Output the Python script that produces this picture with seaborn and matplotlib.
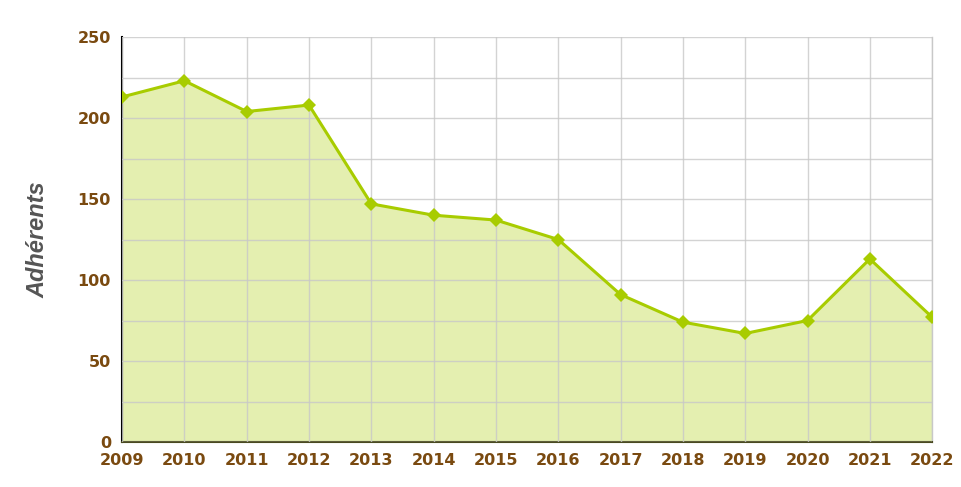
import matplotlib
matplotlib.use('Agg')
import matplotlib.pyplot as plt
import seaborn as sns
import pandas as pd

years = [2009, 2010, 2011, 2012, 2013, 2014, 2015, 2016, 2017, 2018, 2019, 2020, 2021, 2022]
adherents = [213, 223, 204, 208, 147, 140, 137, 125, 91, 74, 67, 75, 113, 77]
y_ticks = [0, 50, 100, 150, 200, 250]

df = pd.DataFrame({'annee': years, 'adherents': adherents})

sns.set_theme(style='white')
plt.rcParams['font.family'] = ['DejaVu Sans']

fig = plt.figure(figsize=(9.61, 4.87), dpi=100)
ax = fig.add_axes([0.127, 0.0924, 0.843, 0.8316])

ax.fill_between(df['annee'], df['adherents'], 0, color='#e4efb0', zorder=1)
sns.lineplot(data=df, x='annee', y='adherents', ax=ax, color='#a8cc00',
             linewidth=2.2, marker='D', markersize=7, markeredgewidth=0, zorder=3)

ax.set_xlim(2009, 2022)
ax.set_ylim(0, 250)
ax.set_xticks(years)
ax.set_yticks(y_ticks)
ax.set_yticks(range(25, 250, 50), minor=True)
# grille au-dessus du remplissage, sous la courbe
ax.set_axisbelow(False)
ax.grid(True, which='both', color='#c8c8c8', linewidth=1, alpha=0.8)
ax.spines['right'].set_visible(True)
ax.spines['right'].set_color('#c8c8c8')
ax.spines['right'].set_linewidth(1)

ax.tick_params(axis='both', which='both', length=0)
ax.tick_params(axis='x', pad=8)
ax.tick_params(axis='y', pad=8)
for lab in ax.get_xticklabels() + ax.get_yticklabels():
    lab.set_fontweight('bold')
    lab.set_fontsize(11.5)
    lab.set_color('#7a4a10')

ax.set_xlabel('')
ax.set_ylabel('Adhérents', fontsize=17, fontweight='bold', fontstyle='italic',
              color='#555555', family=['Liberation Sans', 'DejaVu Sans'], labelpad=20)

ax.spines['left'].set_color('#000000')
ax.spines['left'].set_linewidth(1.5)
ax.spines['bottom'].set_color('#4a4a20')
ax.spines['bottom'].set_linewidth(1.5)
ax.spines['top'].set_visible(False)

fig.savefig('out.png', dpi=100)
